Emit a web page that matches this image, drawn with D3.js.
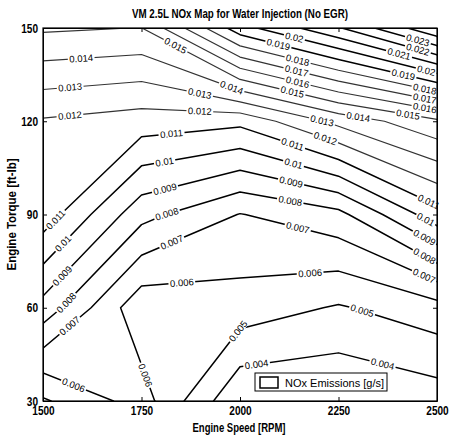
<!DOCTYPE html>
<html lang="en">
<head>
<meta charset="UTF-8">
<title>VM 2.5L NOx Map for Water Injection</title>
<style>
  body { margin: 0; background: #fff; }
  svg text { font-family: "Liberation Sans", Arial, sans-serif; fill: #000; }
</style>
</head>
<body>
<div id="chart"></div>
<script src="https://cdn.jsdelivr.net/npm/d3@7"></script>
<script>
// test grid
const speeds = [1500, 1750, 2000, 2250, 2500];
const torques = [30, 60, 90, 120, 150];

// NOx emissions [g/s], one row per torque, one value per speed
const nox30  = [0.00487, 0.00645, 0.00310, 0.00304, 0.00347];
const nox60  = [0.00863, 0.00529, 0.00555, 0.00490, 0.00560];
const nox90  = [0.01158, 0.00833, 0.00696, 0.00770, 0.01060];
const nox120 = [0.01189, 0.01153, 0.01126, 0.01330, 0.01480];
const nox150 = [0.01515, 0.01498, 0.01960, 0.02190, 0.02490];

const levels = [0.004, 0.005, 0.006, 0.007, 0.008, 0.009, 0.01, 0.011, 0.012, 0.013,
                0.014, 0.015, 0.016, 0.017, 0.018, 0.019, 0.02, 0.021, 0.022, 0.023, 0.024];

// where the inline labels sit: [level, speed, torque]
const labelSpots = [
    [0.004, 2043, 41], [0.004, 2360, 41],
    [0.005, 2000, 52], [0.005, 2305, 57],
    [0.006, 1574, 34], [0.006, 1754, 38], [0.006, 1853, 67], [0.006, 2178, 71],
    [0.007, 1569, 54], [0.007, 1827, 81], [0.007, 2145, 85], [0.007, 2470, 71],
    [0.008, 1556, 62], [0.008, 1810, 92], [0.008, 2127, 94], [0.008, 2470, 77],
    [0.009, 1551, 70], [0.009, 1810, 98], [0.009, 2127, 99], [0.009, 2470, 83],
    [0.01, 1556, 80], [0.01, 1810, 106], [0.01, 2135, 106], [0.01, 2470, 88],
    [0.011, 1551, 86], [0.011, 1827, 115], [0.011, 2132, 112], [0.011, 2475, 93],
    [0.012, 1569, 121], [0.012, 1898, 123], [0.012, 2218, 115],
    [0.013, 1569, 131], [0.013, 1898, 129], [0.013, 2208, 120],
    [0.014, 1596, 142], [0.014, 1982, 132], [0.014, 2297, 119],
    [0.015, 1835, 144], [0.015, 2134, 130], [0.015, 2429, 124],
    [0.016, 2147, 133], [0.016, 2470, 125],
    [0.017, 2145, 137], [0.017, 2470, 128],
    [0.018, 2147, 140], [0.018, 2470, 131],
    [0.019, 2102, 147], [0.019, 2411, 133],
    [0.02, 2140, 148], [0.02, 2470, 135],
    [0.021, 2398, 139], [0.022, 2449, 142], [0.023, 2449, 145]
];

const W = 452, H = 436;
const plot = { left: 43, right: 437, top: 28, bottom: 401 };

const svg = d3.select("#chart").append("svg")
    .attr("width", W)
    .attr("height", H);

const x = d3.scaleLinear().domain([1500, 2500]).range([plot.left, plot.right]);
const y = d3.scaleLinear().domain([30, 150]).range([plot.bottom, plot.top]);

// grid index -> engine units (d3.contours puts value i at i + 0.5)
const gx = d3.scaleLinear().domain([0.5, speeds.length - 0.5]).range([speeds[0], speeds[speeds.length - 1]]);
const gy = d3.scaleLinear().domain([0.5, torques.length - 0.5]).range([torques[0], torques[torques.length - 1]]);

const grid = [nox30, nox60, nox90, nox120, nox150];
// negated so that the one saddle cell closes the same way matlab did it
const values = grid.flat().map(v => -v);
const contours = d3.contours()
    .size([speeds.length, torques.length])
    .thresholds(levels.map(v => -v))(values);

const proj = d3.geoTransform({
    point: function(px, py) { this.stream.point(x(gx(px)), y(gy(py))); }
});
const path = d3.geoPath(proj);

const defs = svg.append("defs");
defs.append("clipPath").attr("id", "plotclip")
    .append("rect")
    .attr("x", plot.left).attr("y", plot.top)
    .attr("width", plot.right - plot.left).attr("height", plot.bottom - plot.top);

// screen segments of one contour, only the parts inside the axes
function segmentsOf(c) {
    const segs = [];
    const inside = p => p[0] >= plot.left - 0.5 && p[0] <= plot.right + 0.5 && p[1] >= plot.top - 0.5 && p[1] <= plot.bottom + 0.5;
    c.coordinates.forEach(poly => poly.forEach(ring => {
        const pts = ring.map(([px, py]) => [x(gx(px)), y(gy(py))]);
        for (let i = 1; i < pts.length; i++) {
            if (inside(pts[i - 1]) && inside(pts[i])) segs.push([pts[i - 1], pts[i]]);
        }
    }));
    return segs;
}

function snap(segs, px, py) {
    let best = null;
    segs.forEach(([a, b]) => {
        const dx = b[0] - a[0], dy = b[1] - a[1];
        const len2 = dx * dx + dy * dy;
        if (len2 === 0) return;
        let t = ((px - a[0]) * dx + (py - a[1]) * dy) / len2;
        t = Math.max(0, Math.min(1, t));
        const qx = a[0] + t * dx, qy = a[1] + t * dy;
        const d = (qx - px) ** 2 + (qy - py) ** 2;
        if (!best || d < best.d) {
            let ang = Math.atan2(dy, dx) * 180 / Math.PI;
            if (ang > 90) ang -= 180;
            if (ang <= -90) ang += 180;
            best = { d: d, x: qx, y: qy, ang: ang };
        }
    });
    return best;
}

const lineG = svg.append("g").attr("clip-path", "url(#plotclip)");
const labelG = svg.append("g");

contours.forEach((c, i) => {
    const level = +(-c.value).toFixed(3);
    const segs = segmentsOf(c);
    const spots = labelSpots.filter(s => Math.abs(s[0] - level) < 1e-6);
    const mask = defs.append("mask").attr("id", "m" + i).attr("maskUnits", "userSpaceOnUse")
        .attr("x", 0).attr("y", 0).attr("width", W).attr("height", H);
    mask.append("rect").attr("width", W).attr("height", H).attr("fill", "#fff");

    spots.forEach(s => {
        const p = snap(segs, x(s[1]), y(s[2]));
        if (!p) return;
        const t = labelG.append("text")
            .attr("transform", `translate(${p.x},${p.y}) rotate(${p.ang})`)
            .attr("text-anchor", "middle")
            .attr("dy", "0.35em")
            .style("font-size", "9.5px")
            .text(String(level));
        const w = t.node().getComputedTextLength() + 3;
        mask.append("rect")
            .attr("x", -w / 2).attr("y", -4)
            .attr("width", w).attr("height", 8)
            .attr("transform", `translate(${p.x},${p.y}) rotate(${p.ang})`)
            .attr("fill", "#000");
    });

    // the mid levels came out faint in the original print
    const faint = level >= 0.012 && level <= 0.018;
    lineG.append("path")
        .attr("d", path(c))
        .attr("fill", "none")
        .attr("stroke", faint ? "#333" : "#000")
        .attr("stroke-width", faint ? 1.2 : 1.5)
        .attr("stroke-linejoin", "round")
        .attr("mask", `url(#m${i})`);
});

// axes, matlab style ticks pointing inwards
const fitText = sel => sel.attr("textLength", function() { return this.textContent.length * 5.6; })
    .attr("lengthAdjust", "spacingAndGlyphs");

const xAxis = svg.append("g")
    .attr("transform", `translate(0,${plot.bottom})`)
    .call(d3.axisBottom(x).tickValues(speeds).tickFormat(d3.format("d"))
        .tickSizeInner(-4).tickSizeOuter(0).tickPadding(5));
const yAxis = svg.append("g")
    .attr("transform", `translate(${plot.left},0)`)
    .call(d3.axisLeft(y).tickValues(torques).tickFormat(d3.format("d"))
        .tickSizeInner(-4).tickSizeOuter(0).tickPadding(5));
svg.append("g")
    .attr("transform", `translate(0,${plot.top})`)
    .call(d3.axisTop(x).tickValues(speeds).tickSizeInner(-4).tickSizeOuter(0).tickFormat(""));
svg.append("g")
    .attr("transform", `translate(${plot.right},0)`)
    .call(d3.axisRight(y).tickValues(torques).tickSizeInner(-4).tickSizeOuter(0).tickFormat(""));

[xAxis, yAxis].forEach(a => {
    a.selectAll("text")
        .style("font-size", "13px")
        .style("font-weight", "bold")
        .style("font-family", "'Liberation Sans', Arial, sans-serif")
        .call(fitText);
});
svg.selectAll(".domain, .tick line").attr("stroke", "#000");

svg.append("rect")
    .attr("x", plot.left).attr("y", plot.top)
    .attr("width", plot.right - plot.left).attr("height", plot.bottom - plot.top)
    .attr("fill", "none").attr("stroke", "#000").attr("stroke-width", 1.2);

// legend
const leg = svg.append("g");
leg.append("rect")
    .attr("x", 255).attr("y", 373).attr("width", 132).attr("height", 18)
    .attr("fill", "#fff").attr("stroke", "#000").attr("stroke-width", 1);
leg.append("rect")
    .attr("x", 260).attr("y", 377).attr("width", 18).attr("height", 11)
    .attr("fill", "#fff").attr("stroke", "#000").attr("stroke-width", 1.5);
leg.append("text")
    .attr("x", 285).attr("y", 386.5)
    .style("font-size", "11px")
    .text("NOx Emissions [g/s]");

// titles
svg.append("text")
    .attr("x", 240).attr("y", 18)
    .attr("text-anchor", "middle")
    .style("font-size", "12px").style("font-weight", "bold")
    .attr("textLength", 216).attr("lengthAdjust", "spacingAndGlyphs")
    .text("VM 2.5L NOx Map for Water Injection (No EGR)");

svg.append("text")
    .attr("x", 239).attr("y", 432)
    .attr("text-anchor", "middle")
    .style("font-size", "12px").style("font-weight", "bold")
    .attr("textLength", 93).attr("lengthAdjust", "spacingAndGlyphs")
    .text("Engine Speed [RPM]");

svg.append("text")
    .attr("transform", `translate(16,${(plot.top + plot.bottom) / 2}) rotate(-90)`)
    .attr("text-anchor", "middle")
    .style("font-size", "12px").style("font-weight", "bold")
    .attr("textLength", 112).attr("lengthAdjust", "spacingAndGlyphs")
    .text("Engine Torque [ft-lb]");
</script>
</body>
</html>
